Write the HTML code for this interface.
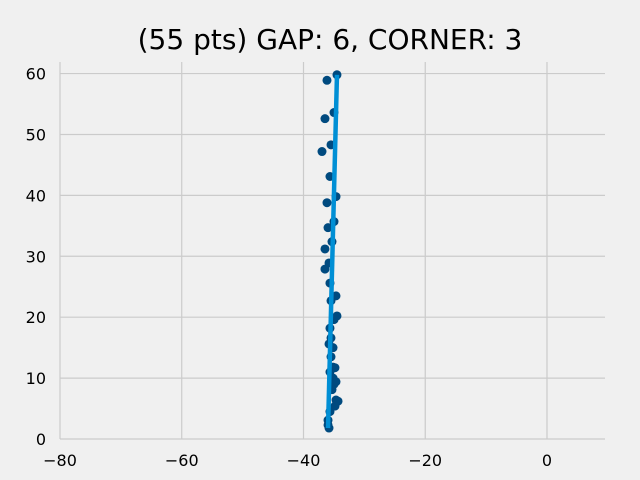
<!DOCTYPE html>
<html><head><meta charset="utf-8"><style>
body{margin:0;background:#f0f0f0}
svg{display:block;font-family:"DejaVu Sans","Liberation Sans",sans-serif}
</style></head><body>
<svg id="chart" width="640" height="480">
<rect width="640" height="480" fill="#f0f0f0"/>
<text x="330" y="49" font-size="28" text-anchor="middle" fill="#000">(55 pts) GAP: 6, CORNER: 3</text>
<g id="grid"></g><g id="ticks"></g><g id="marks"></g>
</svg>
<script>
const xTicks=[-80,-60,-40,-20,0];
const yTicks=[0,10,20,30,40,50,60];
const ptsX=[-34.5,-36.14,-34.99,-36.47,-35.48,-36.96,-35.65,-34.66,-36.14,-34.99,-35.97,-35.32,-36.47,-35.81,-36.47,-35.65,-34.66,-35.48,-34.5,-34.99,-35.65,-35.48,-35.81,-35.15,-35.48,-35.15,-34.83,-35.65,-35.15,-34.99,-34.66,-35.32,-34.66,-34.83,-34.33,-35.65,-35.97,-35.97,-35.81];
const ptsY=[59.8,58.9,53.6,52.6,48.3,47.2,43.1,39.8,38.8,35.7,34.7,32.4,31.2,28.9,27.9,25.6,23.5,22.7,20.2,19.6,18.2,16.6,15.6,15.0,13.5,11.8,11.7,11.0,10.0,9.0,9.4,8.1,6.4,5.4,6.2,4.5,3.1,2.3,1.8];
const fitX=[-35.97,-34.5];
const fitY=[1.8,59.8];
const xMin=-80,xMax=9.53,yMin=0,yMax=61.9,L=60,R=605,T=62,B=439;
const sx=v=>L+(v-xMin)/(xMax-xMin)*(R-L);
const sy=v=>B-(v-yMin)/(yMax-yMin)*(B-T);
const NS='http://www.w3.org/2000/svg';
function mk(tag,attrs,parent){const e=document.createElementNS(NS,tag);for(const k in attrs)e.setAttribute(k,attrs[k]);document.getElementById(parent).appendChild(e);return e;}
xTicks.forEach(t=>{
 const l=mk('line',{x1:sx(t),x2:sx(t),y1:T,y2:B,stroke:'#cbcbcb','stroke-width':1.2},'grid');
 
 
 const tx=mk('text',{x:sx(t),y:466,'font-size':16,'text-anchor':'middle',fill:'#000'},'ticks');
 tx.textContent=(t<0?'\u2212'+(-t):t);
 
 
});
yTicks.forEach(t=>{
 const l=mk('line',{x1:L,x2:R,y1:sy(t),y2:sy(t),stroke:'#cbcbcb','stroke-width':1.2},'grid');
 
 
 const tx=mk('text',{x:46,y:sy(t)+6,'font-size':16,'text-anchor':'end',fill:'#000'},'ticks');
 tx.textContent=t;
 
 
});
ptsX.forEach((x,i)=>{
 const c=mk('circle',{cx:sx(x),cy:sy(ptsY[i]),r:4.5,fill:'#004a7f'},'marks');
 
 
});
const fl=mk('line',{x1:sx(fitX[0]),y1:sy(fitY[0]),x2:sx(fitX[1]),y2:sy(fitY[1]),stroke:'#008fd5','stroke-width':4.5},'marks');


</script>
</body></html>
